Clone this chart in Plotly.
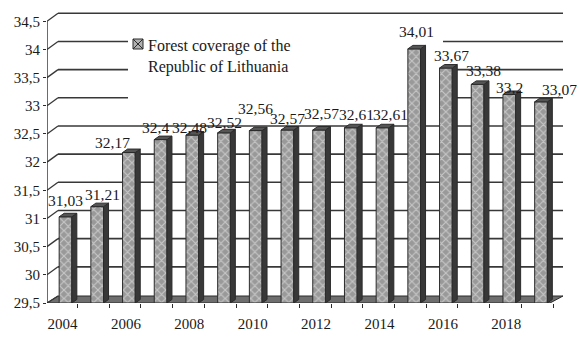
import plotly.graph_objects as go

# ---------------- data ----------------
years = [2004, 2005, 2006, 2007, 2008, 2009, 2010, 2011, 2012, 2013,
         2014, 2015, 2016, 2017, 2018, 2019]
values = [31.03, 31.21, 32.17, 32.4, 32.48, 32.52, 32.56, 32.57, 32.57, 32.61,
          32.61, 34.01, 33.67, 33.38, 33.2, 33.07]
value_labels = ["31,03", "31,21", "32,17", "32,4", "32,48", "32,52", "32,56", "32,57",
                "32,57", "32,61", "32,61", "34,01", "33,67", "33,38", "33,2", "33,07"]
y_tickvals = [29.5, 30, 30.5, 31, 31.5, 32, 32.5, 33, 33.5, 34, 34.5]
y_ticktext = ["29,5", "30", "30,5", "31", "31,5", "32", "32,5", "33", "33,5", "34", "34,5"]
x_tickvals = [2004, 2006, 2008, 2010, 2012, 2014, 2016, 2018]
x_ticktext = ["2004", "2006", "2008", "2010", "2012", "2014", "2016", "2018"]
series_name = "Forest coverage of the<br>Republic of Lithuania"

# label nudges in pixels (dx, dy above bar top) -- styling only
label_dx = [0, 5, -16, -5, -3, 0, 0, 0, 2, 6, 8, 2, 6, 6, 0, 18]
label_dy = [16, 12, 10, 12, 8, 10, 22, 12, 17, 13, 13, 17, 13, 14, 7, 12]

# ---------------- geometry helpers ----------------
W, H = 580, 341
ML, MR, MT, MB = 47, 15, 10, 38
BASE = 29.5
YTOP = 34.7
PXY = (H - MT - MB) / (YTOP - BASE)          # px per y unit
PXX = 31.7                                   # px per year
X0 = 2004 - (65.5 - ML) / PXX
X1 = X0 + (W - ML - MR) / PXX


def px2x(p):
    return X0 + (p - ML) / PXX


def py2y(p):
    return BASE + (H - MB - p) / PXY


def dxu(px):
    return px / PXX


def dyu(px):
    return px / PXY


FONT = "Liberation Serif"
DARK = "#2b2b2b"
TXT = "#1a1a1a"
BW = 0.4                 # bar width (years)
DEPTH_X, DEPTH_Y = dxu(5), dyu(3.5)   # bar depth
WALL_X, WALL_Y = dxu(11), dyu(8)      # wall depth

fig = go.Figure()

shapes = []
# floor
fl = px2x(47)
fr = px2x(550)
shapes.append(dict(type="path", layer="below",
                   path=f"M{fl},{BASE} L{fr},{BASE} L{fr + dxu(13)},{BASE + dyu(7)} "
                        f"L{fl + WALL_X},{BASE + dyu(7)} Z",
                   xref="x", yref="y", fillcolor="#6e6e6e",
                   line=dict(color=DARK, width=1)))
# back wall gridlines and side wall diagonals
for v in y_tickvals[1:]:
    shapes.append(dict(type="line", layer="below", xref="x", yref="y",
                       x0=fl + WALL_X, x1=px2x(563), y0=v + WALL_Y, y1=v + WALL_Y,
                       line=dict(color="#383838", width=1.6)))
for v in y_tickvals:
    shapes.append(dict(type="line", layer="below", xref="x", yref="y",
                       x0=fl, x1=fl + WALL_X, y0=v, y1=v + (WALL_Y if v > BASE else dyu(7)),
                       line=dict(color="#383838", width=1.3)))
# legend background (covers gridlines)
shapes.append(dict(type="rect", layer="below", xref="x", yref="y",
                   x0=px2x(128), x1=px2x(443), y0=py2y(112), y1=py2y(20),
                   fillcolor="white", line=dict(width=0)))
# front value axis line
shapes.append(dict(type="line", layer="above", xref="x", yref="y",
                   x0=fl, x1=fl, y0=BASE, y1=y_tickvals[-1],
                   line=dict(color=DARK, width=1.4)))

# ---------------- bars (front faces) ----------------
fig.add_trace(go.Bar(
    x=years, y=[v - BASE for v in values], base=BASE, width=BW,
    marker=dict(color="#9c9c9c",
                line=dict(color=DARK, width=1),
                pattern=dict(shape="x", fgcolor="#f2f2f2", bgcolor="#999999",
                             size=6, solidity=0.35)),
    showlegend=False, hoverinfo="skip"))

# side faces and top faces built from the same data
sx, sy, tx, ty = [], [], [], []
for yr, v in zip(years, values):
    xl, xr = yr - BW / 2, yr + BW / 2
    sx += [xr, xr + DEPTH_X, xr + DEPTH_X, xr, xr, None]
    sy += [BASE, BASE + DEPTH_Y, v + DEPTH_Y, v, BASE, None]
    tx += [xl, xr, xr + DEPTH_X, xl + DEPTH_X, xl, None]
    ty += [v, v, v + DEPTH_Y, v + DEPTH_Y, v, None]
fig.add_trace(go.Scatter(x=sx, y=sy, mode="lines", fill="toself", fillcolor="#383838",
                         line=dict(color=DARK, width=1), showlegend=False, hoverinfo="skip"))
fig.add_trace(go.Scatter(x=tx, y=ty, mode="lines", fill="toself", fillcolor="#555555",
                         line=dict(color=DARK, width=1), showlegend=False, hoverinfo="skip"))

# legend marker
fig.add_trace(go.Scatter(x=[px2x(138)], y=[py2y(44)], mode="markers",
                         marker=dict(symbol="square-x", size=10, color="#b0b0b0",
                                     line=dict(color=DARK, width=1)),
                         showlegend=False, hoverinfo="skip"))

annotations = []
for yr, v, t, ddx, ddy in zip(years, values, value_labels, label_dx, label_dy):
    annotations.append(dict(x=yr, y=v, xref="x", yref="y", text=t, showarrow=False,
                            xshift=ddx, yshift=ddy, xanchor="center", yanchor="middle",
                            font=dict(family=FONT, size=15.5, color=TXT)))
annotations.append(dict(x=px2x(146), y=py2y(35), xref="x", yref="y", text=series_name,
                        showarrow=False, xanchor="left", yanchor="top", align="left",
                        font=dict(family=FONT, size=16, color=TXT)))

fig.update_layout(
    width=W, height=H,
    margin=dict(l=ML, r=MR, t=MT, b=MB, pad=0),
    paper_bgcolor="white", plot_bgcolor="white",
    shapes=shapes, annotations=annotations,
    showlegend=False,
    xaxis=dict(range=[X0, X1], showgrid=False, zeroline=False, showline=False,
               tickmode="array", tickvals=x_tickvals, ticktext=x_ticktext,
               ticks="", ticklabelshift=-3, ticklabelstandoff=10,
               tickfont=dict(family=FONT, size=15, color=TXT),
               minor=dict(tickmode="linear", tick0=2003.38, dtick=1, ticks="outside",
                          ticklen=4, tickcolor=DARK, tickwidth=1, showgrid=False)),
    yaxis=dict(range=[BASE, YTOP], showgrid=False, zeroline=False, showline=False,
               tickmode="array", tickvals=y_tickvals, ticktext=y_ticktext,
               ticks="outside", ticklen=3, tickcolor=DARK, tickwidth=1.3,
               tickfont=dict(family=FONT, size=15, color=TXT)),
)

fig.write_html("out.html")
